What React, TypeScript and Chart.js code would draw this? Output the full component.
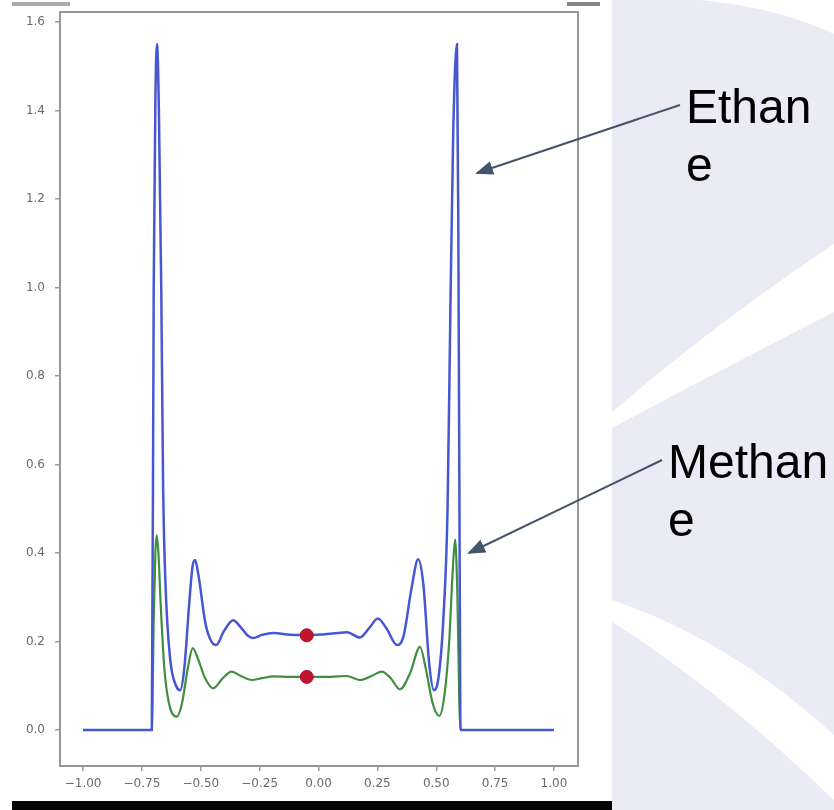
import React, { useEffect, useRef } from "react";
import { Chart, registerables } from "chart.js";
Chart.register(...registerables);

// Ethane (blue) curve
const ethaneX = [-1.0, -0.708, -0.7, -0.693, -0.686, -0.678, -0.668, -0.66, -0.65, -0.63, -0.605, -0.588, -0.57, -0.55, -0.535, -0.524, -0.51, -0.48, -0.455, -0.435, -0.4, -0.363, -0.33, -0.3, -0.278, -0.24, -0.19, -0.12, -0.05, 0.02, 0.08, 0.12, 0.176, 0.215, 0.252, 0.29, 0.333, 0.36, 0.395, 0.423, 0.445, 0.47, 0.49, 0.51, 0.53, 0.548, 0.56, 0.572, 0.588, 0.594, 0.6, 0.603, 1.0];
const ethaneY = [0, 0, 1.0, 1.42, 1.55, 1.4, 1.0, 0.55, 0.33, 0.16, 0.1, 0.09, 0.14, 0.28, 0.37, 0.384, 0.35, 0.24, 0.2, 0.192, 0.225, 0.248, 0.232, 0.213, 0.208, 0.215, 0.219, 0.215, 0.214, 0.216, 0.219, 0.221, 0.209, 0.23, 0.252, 0.228, 0.192, 0.21, 0.32, 0.386, 0.33, 0.15, 0.09, 0.12, 0.25, 0.5, 0.95, 1.35, 1.55, 1.1, 0.3, 0, 0];

// Methane (green) curve
const methaneX = [-1.0, -0.708, -0.7, -0.693, -0.687, -0.68, -0.67, -0.655, -0.635, -0.602, -0.58, -0.555, -0.534, -0.515, -0.48, -0.447, -0.41, -0.369, -0.33, -0.284, -0.24, -0.192, -0.12, -0.05, 0.02, 0.08, 0.12, 0.176, 0.225, 0.268, 0.305, 0.346, 0.39, 0.431, 0.455, 0.485, 0.513, 0.535, 0.555, 0.57, 0.58, 0.59, 0.598, 0.603, 1.0];
const methaneY = [0, 0, 0.25, 0.4, 0.44, 0.4, 0.28, 0.14, 0.06, 0.03, 0.06, 0.14, 0.185, 0.165, 0.115, 0.094, 0.115, 0.132, 0.122, 0.113, 0.117, 0.121, 0.12, 0.12, 0.12, 0.121, 0.122, 0.113, 0.122, 0.132, 0.118, 0.092, 0.13, 0.188, 0.14, 0.06, 0.032, 0.08, 0.2, 0.36, 0.43, 0.3, 0.06, 0, 0];

// Red markers
const markerX = [-0.05, -0.05];
const markerY = [0.214, 0.12];

// Axis ticks
const xTickValues = [-1, -0.75, -0.5, -0.25, 0, 0.25, 0.5, 0.75, 1];
const xTickLabels = ["\u22121.00", "\u22120.75", "\u22120.50", "\u22120.25", "0.00", "0.25", "0.50", "0.75", "1.00"];
const yTickValues = [0, 0.2, 0.4, 0.6, 0.8, 1.0, 1.2, 1.4, 1.6];
const yTickLabels = ["0.0", "0.2", "0.4", "0.6", "0.8", "1.0", "1.2", "1.4", "1.6"];

const toPoints = (xs: number[], ys: number[]) => xs.map((x, i) => ({ x, y: ys[i] }));

const framePlugin = {
  id: "frame",
  beforeDatasetsDraw(chart: any) {
    const { ctx, chartArea: a } = chart;
    ctx.save();
    ctx.strokeStyle = "#979797";
    ctx.lineWidth = 2;
    ctx.strokeRect(a.left, a.top, a.right - a.left, a.bottom - a.top);
    ctx.restore();
  },
};

function PlotChart() {
  const ref = useRef<HTMLCanvasElement | null>(null);
  useEffect(() => {
    if (!ref.current) return;
    const tickFont = { family: "'DejaVu Sans', sans-serif", size: 12 };
    const chart = new Chart(ref.current, {
      type: "line",
      data: {
        datasets: [
          {
            label: "markers",
            data: toPoints(markerX, markerY),
            showLine: false,
            pointRadius: 6.5,
            pointBackgroundColor: "#c2142e",
            pointBorderColor: "#a80f2c",
            pointBorderWidth: 1,
          },
          {
            label: "Ethane",
            data: toPoints(ethaneX, ethaneY),
            borderColor: "#4757d2",
            borderWidth: 2.5,
            pointRadius: 0,
            cubicInterpolationMode: "monotone",
            fill: false,
          },
          {
            label: "Methane",
            data: toPoints(methaneX, methaneY),
            borderColor: "#3f8f3f",
            borderWidth: 2.2,
            pointRadius: 0,
            cubicInterpolationMode: "monotone",
            fill: false,
          },
        ],
      },
      options: {
        animation: false,
        responsive: false,
        maintainAspectRatio: false,
        layout: { padding: { top: 12, right: 34, left: 0, bottom: 0 } },
        plugins: { legend: { display: false }, tooltip: { enabled: false } },
        scales: {
          x: {
            type: "linear",
            min: -1.098,
            max: 1.102,
            border: { display: false },
            grid: { drawOnChartArea: false, drawTicks: true, tickLength: 5, color: "#9a9a9a", lineWidth: 1.5 },
            ticks: {
              font: tickFont,
              color: "#6a6a6a",
              padding: 6,
              maxRotation: 0,
              autoSkip: false,
              callback: (_v: any, i: number) => xTickLabels[i],
            },
            afterBuildTicks: (s: any) => {
              s.ticks = xTickValues.map((v) => ({ value: v }));
            },
            afterFit: (s: any) => {
              s.height = 34;
              s.paddingLeft = 0;
              s.paddingRight = 0;
            },
          },
          y: {
            type: "linear",
            min: -0.0814,
            max: 1.6226,
            border: { display: false },
            grid: { drawOnChartArea: false, drawTicks: true, tickLength: 5, color: "#9a9a9a", lineWidth: 1.5 },
            ticks: {
              font: tickFont,
              color: "#6a6a6a",
              padding: 10,
              autoSkip: false,
              callback: (_v: any, i: number) => yTickLabels[i],
            },
            afterBuildTicks: (s: any) => {
              s.ticks = yTickValues.map((v) => ({ value: v }));
            },
            afterFit: (s: any) => {
              s.width = 60;
              s.paddingTop = 0;
              s.paddingBottom = 0;
            },
          },
        },
      },
      plugins: [framePlugin],
    });
    return () => chart.destroy();
  }, []);
  return (
    <canvas
      ref={ref}
      width={612}
      height={800}
      style={{ position: "absolute", left: 0, top: 0, width: 612, height: 800 }}
    />
  );
}

export default function App() {
  const textStyle: React.CSSProperties = {
    position: "absolute",
    fontFamily: "'Liberation Sans', Arial, sans-serif",
    fontSize: 48,
    lineHeight: "58px",
    color: "#000",
    wordBreak: "break-all",
  };
  return (
    <div style={{ position: "fixed", left: 0, top: 0, width: 834, height: 810, background: "#fff", overflow: "hidden" }}>
      <svg width={834} height={810} style={{ position: "absolute", left: 0, top: 0 }}>
        <rect x={612} y={0} width={222} height={810} fill="#ebebf5" />
        <path d="M 700 0 Q 780 8 834 34 L 834 0 Z" fill="#fff" />
        <path d="M 612 412 Q 720 320 834 244 L 834 312 Q 720 370 612 428 Z" fill="#fff" />
        <path d="M 612 600 Q 730 640 834 735 L 834 800 Q 720 690 612 622 Z" fill="#fff" />
        <rect x={12} y={801} width={600} height={9} fill="#050505" />
        <rect x={12} y={2} width={58} height={4} fill="#555" opacity={0.5} />
        <rect x={567} y={2} width={33} height={4} fill="#333" opacity={0.6} />
      </svg>
      <PlotChart />
      <svg width={834} height={810} style={{ position: "absolute", left: 0, top: 0, pointerEvents: "none" }}>
        <defs>
          <marker id="ah" markerUnits="userSpaceOnUse" markerWidth={18} markerHeight={14} refX={16} refY={7} orient="auto">
            <path d="M 0 0 L 18 7 L 0 14 Z" fill="#44546a" />
          </marker>
        </defs>
        <line x1={680} y1={105} x2={477} y2={173} stroke="#44546a" strokeWidth={2} markerEnd="url(#ah)" />
        <line x1={662} y1={460} x2={469} y2={553} stroke="#44546a" strokeWidth={2} markerEnd="url(#ah)" />
      </svg>
      <div style={{ ...textStyle, left: 686, top: 78, width: 130 }}>Ethane</div>
      <div style={{ ...textStyle, left: 668, top: 433, width: 165 }}>Methane</div>
    </div>
  );
}
